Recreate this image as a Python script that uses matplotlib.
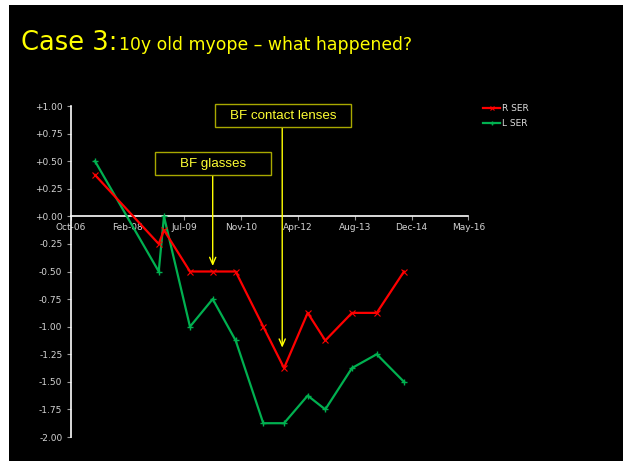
import matplotlib
matplotlib.use("Agg")
import matplotlib.pyplot as plt
import matplotlib.dates as mdates
from matplotlib.patches import Rectangle
from matplotlib.lines import Line2D
from matplotlib.ticker import FuncFormatter, MultipleLocator
import numpy as np
import pandas as pd

# ---- data ----
dates = ['2007-05-12', '2008-11-23', '2009-01-08', '2009-08-25', '2010-03-13',
         '2010-10-01', '2011-06-01', '2011-12-01', '2012-06-26', '2012-11-28',
         '2013-07-21', '2014-02-24', '2014-10-22']
r_ser = [0.375, -0.25, -0.125, -0.5, -0.5, -0.5, -1.0, -1.375, -0.875, -1.125,
         -0.875, -0.875, -0.5]
l_ser = [0.5, -0.5, 0.0, -1.0, -0.75, -1.125, -1.875, -1.875, -1.625, -1.75,
         -1.375, -1.25, -1.5]
x_tick_labels = ['Oct-06', 'Feb-08', 'Jul-09', 'Nov-10', 'Apr-12', 'Aug-13',
                 'Dec-14', 'May-16']
axis_start = '2006-10-10'
tick_step_days = 500
title_main = "Case 3:"
title_sub = "10y old myope \u2013 what happened?"
ann_glasses = "BF glasses"
ann_glasses_date = '2010-03-13'
ann_glasses_val = -0.45
ann_cl = "BF contact lenses"
ann_cl_date = '2011-11-15'
ann_cl_val = -1.19

W, H = 623, 461
fig = plt.figure(figsize=(W / 100, H / 100), dpi=100, facecolor='white')
bg = Rectangle((9 / W, 0), 1 - 9 / W, 1 - 5 / H, transform=fig.transFigure,
               facecolor='black', edgecolor='none', zorder=-10)
fig.patches.append(bg)

ax = fig.add_axes([70.7 / W, 1 - 437 / H, (468.3 - 70.7) / W, (437 - 106) / H])
ax.set_facecolor('none')
ax.set_zorder(1)

x = mdates.date2num(pd.to_datetime(dates))
start = pd.Timestamp(axis_start)
ticks = [mdates.date2num(start + pd.Timedelta(days=tick_step_days * i))
         for i in range(len(x_tick_labels))]

ax.plot(x, l_ser, color='#00b050', lw=1.6, marker='+', ms=4, mew=1,
        label='L SER', zorder=3)
ax.plot(x, r_ser, color='#ff0000', lw=1.6, marker='x', ms=4, mew=0.8,
        label='R SER', zorder=4)

ax.set_xlim(ticks[0], ticks[-1])
ax.set_ylim(-2.0, 1.0)
ax.set_xticks(ticks)
ax.set_xticklabels(x_tick_labels)
ax.yaxis.set_major_locator(MultipleLocator(0.25))
ax.yaxis.set_major_formatter(FuncFormatter(lambda v, p: f"{v:+.2f}"))

for s in ['top', 'right']:
    ax.spines[s].set_visible(False)
ax.spines['bottom'].set_position(('data', 0))
ax.spines['bottom'].set_color('white')
ax.spines['left'].set_color('white')
ax.spines['bottom'].set_linewidth(1.2)
ax.spines['left'].set_linewidth(1.2)
ax.tick_params(axis='x', colors='#999999', labelcolor='#d4d4d4', labelsize=6.5,
               direction='out', length=3, pad=2)
ax.tick_params(axis='y', colors='#999999', labelcolor='#d4d4d4', labelsize=6.5,
               direction='out', length=3, pad=3)
for lab in ax.get_xticklabels() + ax.get_yticklabels():
    lab.set_family('DejaVu Sans')

# annotation arrows (drawn in the axes, above the lines)
arrow_style = dict(arrowstyle='->,head_length=0.5,head_width=0.22',
                   color='#ffff00', lw=1.0, shrinkA=0, shrinkB=0)
gx = mdates.date2num(pd.Timestamp(ann_glasses_date))
ax.annotate('', xy=(gx, ann_glasses_val), xycoords='data',
            xytext=(gx, 1 + (106 - 175.3) / (437 - 106) * 3),
            textcoords='data', arrowprops=arrow_style, annotation_clip=False,
            zorder=5)
cx = mdates.date2num(pd.Timestamp(ann_cl_date))
ax.annotate('', xy=(cx, ann_cl_val), xycoords='data',
            xytext=(cx, 1 + (106 - 127.3) / (437 - 106) * 3),
            textcoords='data', arrowprops=arrow_style, annotation_clip=False,
            zorder=5)

# legend
handles = [Line2D([], [], color='#ff0000', lw=1.6, marker='x', ms=3.5, mew=0.8),
           Line2D([], [], color='#00b050', lw=1.6, marker='+', ms=3.5, mew=1)]
leg = fig.legend(handles, ['R SER', 'L SER'], loc='upper left',
                 bbox_to_anchor=(483 / W, 1 - 104 / H), frameon=False,
                 fontsize=6.5, handlelength=1.9, handletextpad=0.2,
                 borderpad=0, borderaxespad=0, labelspacing=0.7)
for t in leg.get_texts():
    t.set_color('#dddddd')

# annotation boxes
def box(x0, y0, x1, y1, text):
    fig.patches.append(Rectangle((x0 / W, 1 - y1 / H), (x1 - x0) / W, (y1 - y0) / H,
                                 transform=fig.transFigure, facecolor='black',
                                 edgecolor='#a8a800', lw=1.0, zorder=5))
    fig.text((x0 + x1) / 2 / W, 1 - (y0 + y1) / 2 / H, text, color='#ffff33',
             fontsize=9.6, family='Liberation Sans', ha='center', va='center',
             zorder=6)

box(155.3, 152.3, 270.7, 175.3, ann_glasses)
box(215, 104.3, 350.7, 127.3, ann_cl)

# title
fig.text(21 / W, 1 - 50 / H, title_main, color='#ffff00', fontsize=18.5,
         family='DejaVu Sans', va='baseline', ha='left')
fig.text(119 / W, 1 - 50 / H, title_sub, color='#ffff00', fontsize=12.4,
         family='DejaVu Sans', va='baseline', ha='left')

fig.savefig('out.png', dpi=100, facecolor=fig.get_facecolor())
